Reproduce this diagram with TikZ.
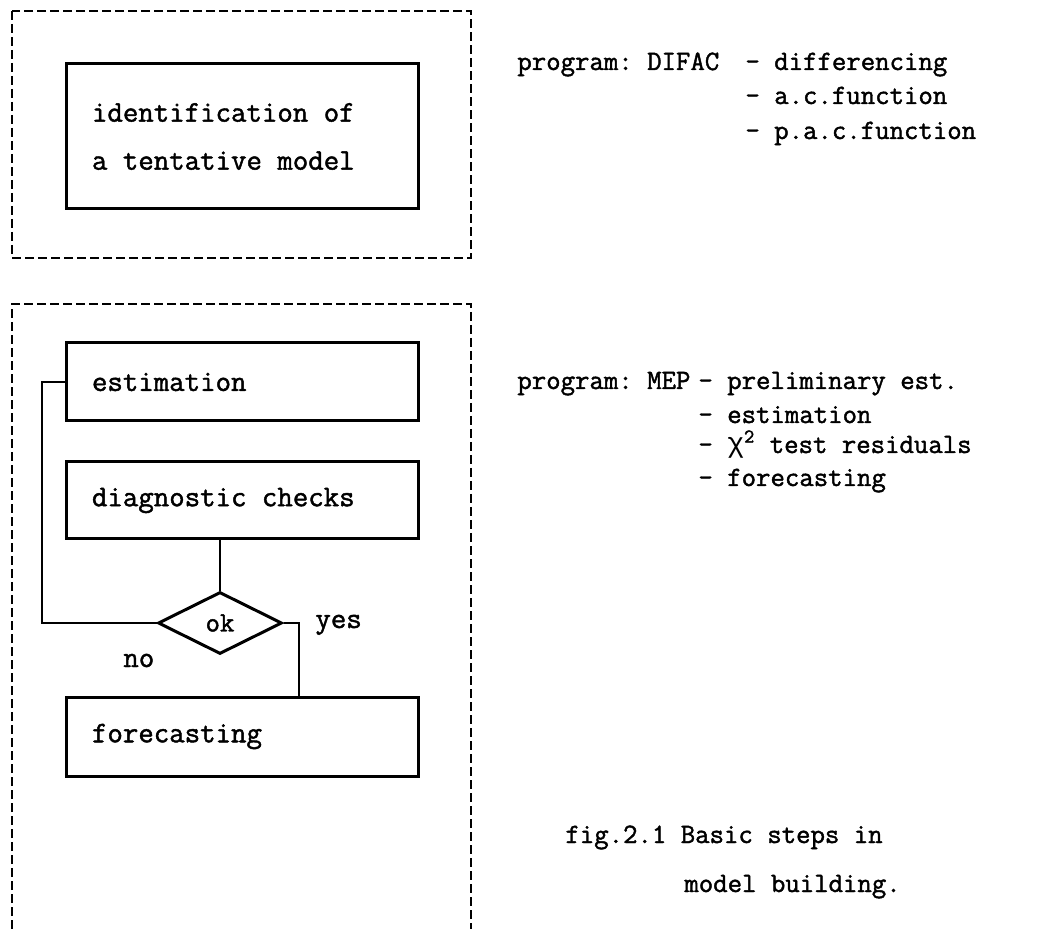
\documentclass[tikz,border=0pt]{standalone}
\usepackage{fontspec}
\setmonofont{Latin Modern Mono}[FakeBold=1.5]
\newfontfamily\greekmono{Liberation Mono}
\usetikzlibrary{shapes.geometric}

\tikzset{
  stepbox/.style={draw,line width=1.5pt,minimum width=176pt,text width=150pt,
    inner xsep=13pt,align=left,font=\ttfamily\fontsize{15}{24}\selectfont},
  groupframe/.style={line width=1.4pt,dash pattern=on 4.5pt off 2pt},
  note/.style={inner sep=0pt,anchor=base west,font=\ttfamily\fontsize{14}{15}\selectfont},
  flow/.style={line width=1.4pt}
}
% full typewriter spaces inside the ragged boxes
\newcommand{\ttspaces}{\spaceskip=0pt\xspaceskip=0pt\relax}

\begin{document}
\begin{tikzpicture}[x=0.5pt,y=-0.5pt]
        \useasboundingbox (0,0) rectangle (1037,929);

        % the two dashed groups
        \draw[groupframe] (12,11) rectangle (471,258);
        \draw[groupframe] (12,929) -- (12,304) -- (471,304) -- (471,929);

        \node[stepbox,minimum height=72.5pt] (ident) at (242,136.5)
          {\ttspaces identification of\\a tentative model};

        \node[stepbox,minimum height=39pt] (est) at (242,382) {\ttspaces estimation};
        \node[stepbox,minimum height=38.5pt] (diag) at (242,500.5) {\ttspaces diagnostic checks};
        \node[stepbox,minimum height=39.5pt] (fc) at (242,736.5) {\ttspaces forecasting};

        \node[diamond,draw,line width=1.5pt,aspect=2,minimum width=62pt,minimum height=31pt,
          inner sep=0pt,font=\ttfamily\fontsize{14}{15}\selectfont] (ok) at (220,623) {ok};

        \coordinate (back) at (42,0);
        \coordinate (go) at (299,0);
        \draw[flow] (diag.south -| ok.north) -- (ok.north);
        \draw[flow] (ok.west) -| (back |- est.west) -- (est.west);
        \draw[flow] (ok.east) -| (go |- fc.north);

        \node[note,font=\ttfamily\fontsize{15}{15}\selectfont] (yes) at (315,628) {yes};
        \node[note,font=\ttfamily\fontsize{15}{15}\selectfont] (no) at (123,667) {no};

        % programs used at each stage
        \node[note] (difac) at (517,70) {program: DIFAC};
        \node[note] (d1) at (745,70) {- differencing};
        \node[note] (d2) at (745,104) {- a.c.function};
        \node[note] (d3) at (745,139) {- p.a.c.function};

        \node[note] (mep) at (517,389) {program: MEP};
        \node[note] (m1) at (698,389) {- preliminary est.};
        \node[note] (m2) at (698,423) {- estimation};
        \node[note] (m3) at (698,453) {- {\greekmono χ}\textsuperscript{2} test residuals};
        \node[note] (m4) at (698,486) {- forecasting};

        \node[note] (cap1) at (565,843) {fig.2.1 Basic steps in};
        \node[note] (cap2) at (684,892) {model building.};
\end{tikzpicture}
\end{document}
